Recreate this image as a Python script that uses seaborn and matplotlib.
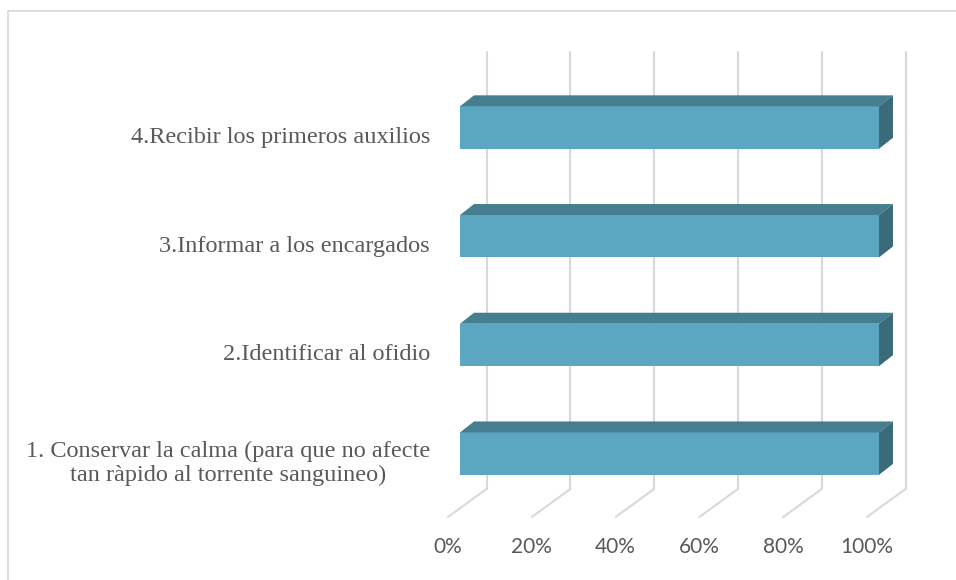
import numpy as np
import pandas as pd
import matplotlib
matplotlib.use("Agg")
import matplotlib.pyplot as plt
import matplotlib.transforms as mtransforms
from matplotlib.lines import Line2D
from matplotlib.patches import Polygon
import seaborn as sns

# Datos
categorias = [
    "4.Recibir los primeros auxilios",
    "3.Informar a los encargados",
    "2.Identificar al ofidio",
    "1. Conservar la calma (para que no afecte\ntan ràpido al torrente sanguineo)",
]
valores = [1.0, 1.0, 1.0, 1.0]
ticks_x = [0.0, 0.2, 0.4, 0.6, 0.8, 1.0]
etiquetas_x = ["0%", "20%", "40%", "60%", "80%", "100%"]

df = pd.DataFrame({"accion": categorias, "porcentaje": valores})

# Colores
c_frente = "#5BA7C1"
c_arriba = "#457E8F"
c_lado = "#3B6A7A"
c_grid = "#D9D9D9"
c_texto = "#595959"

sns.set_theme(style="white")
plt.rcParams["font.family"] = ["DejaVu Sans"]

W, H = 956, 580
fig = plt.figure(figsize=(W / 100, H / 100), dpi=100)
# plano frontal de las barras (pixeles)
x_izq, x_der, y_sup, y_inf = 460, 879, 71, 508
ax = fig.add_axes([x_izq / W, 1 - y_inf / H, (x_der - x_izq) / W, (y_inf - y_sup) / H])

sns.barplot(data=df, x="porcentaje", y="accion", orient="h", color=c_frente,
            saturation=1, width=0.39, ax=ax, zorder=3, linewidth=0)
ax.set_xlim(0, 1)
ax.set_ylim(3.5, -0.52)
ax.axis("off")

# Profundidad 3D (pixeles)
fondo = (26.5, 19)
piso = (-12, -9)
prof_barra = (14, 11)

# Paredes y piso: lineas de cuadricula
trans_fondo = mtransforms.offset_copy(ax.transData, fig=fig, x=fondo[0], y=fondo[1], units="dots")
ident = mtransforms.IdentityTransform()
for t in ticks_x:
    ax.plot([t, t], [3.5, -0.52], color=c_grid, lw=1.5, transform=trans_fondo,
            clip_on=False, zorder=1)
    px, py = ax.transData.transform((t, 3.5))
    ax.add_line(Line2D([px + piso[0], px + fondo[0]], [py + piso[1], py + fondo[1]],
                       color=c_grid, lw=1.5, transform=ident, clip_on=False, zorder=1))

# Caras superior y lateral de las barras
for p in ax.patches:
    x0, y0 = p.get_x(), p.get_y()
    x1, y1 = x0 + p.get_width(), y0 + p.get_height()
    a = ax.transData.transform((x0, y0))
    b = ax.transData.transform((x1, y0))
    c = ax.transData.transform((x1, y1))
    d = np.array(prof_barra)
    arriba = Polygon([a, b, b + d, a + d], closed=True, facecolor=c_arriba,
                     edgecolor="none", transform=ident, clip_on=False, zorder=3)
    lado = Polygon([b, c, c + d, b + d], closed=True, facecolor=c_lado,
                   edgecolor="none", transform=ident, clip_on=False, zorder=3)
    ax.add_patch(arriba)
    ax.add_patch(lado)

# Etiquetas de categorias
trans_cat = mtransforms.offset_copy(ax.transData, fig=fig, x=-30, y=-10, units="dots")
for i, nombre in enumerate(categorias):
    ax.text(0, i, nombre, transform=trans_cat, ha="right", va="center",
            multialignment="center", linespacing=1.15, fontsize=17.5, color=c_texto,
            family=["Liberation Serif", "DejaVu Serif"])

# Etiquetas del eje x (en el borde frontal del piso)
trans_eje = mtransforms.offset_copy(ax.transData, fig=fig, x=piso[0], y=piso[1] - 30, units="dots")
for t, lab in zip(ticks_x, etiquetas_x):
    ax.text(t, 3.5, lab, transform=trans_eje, ha="center", va="center",
            fontsize=15, color=c_texto, family=["Lato", "DejaVu Sans"])

# Marco del grafico
fig.add_artist(Line2D([8 / W, 8 / W], [1 - 11 / H, 0], color=c_grid, lw=1.2,
                      transform=fig.transFigure))
fig.add_artist(Line2D([8 / W, 1], [1 - 11 / H, 1 - 11 / H], color=c_grid, lw=1.2,
                      transform=fig.transFigure))

fig.savefig("out.png", dpi=100)
